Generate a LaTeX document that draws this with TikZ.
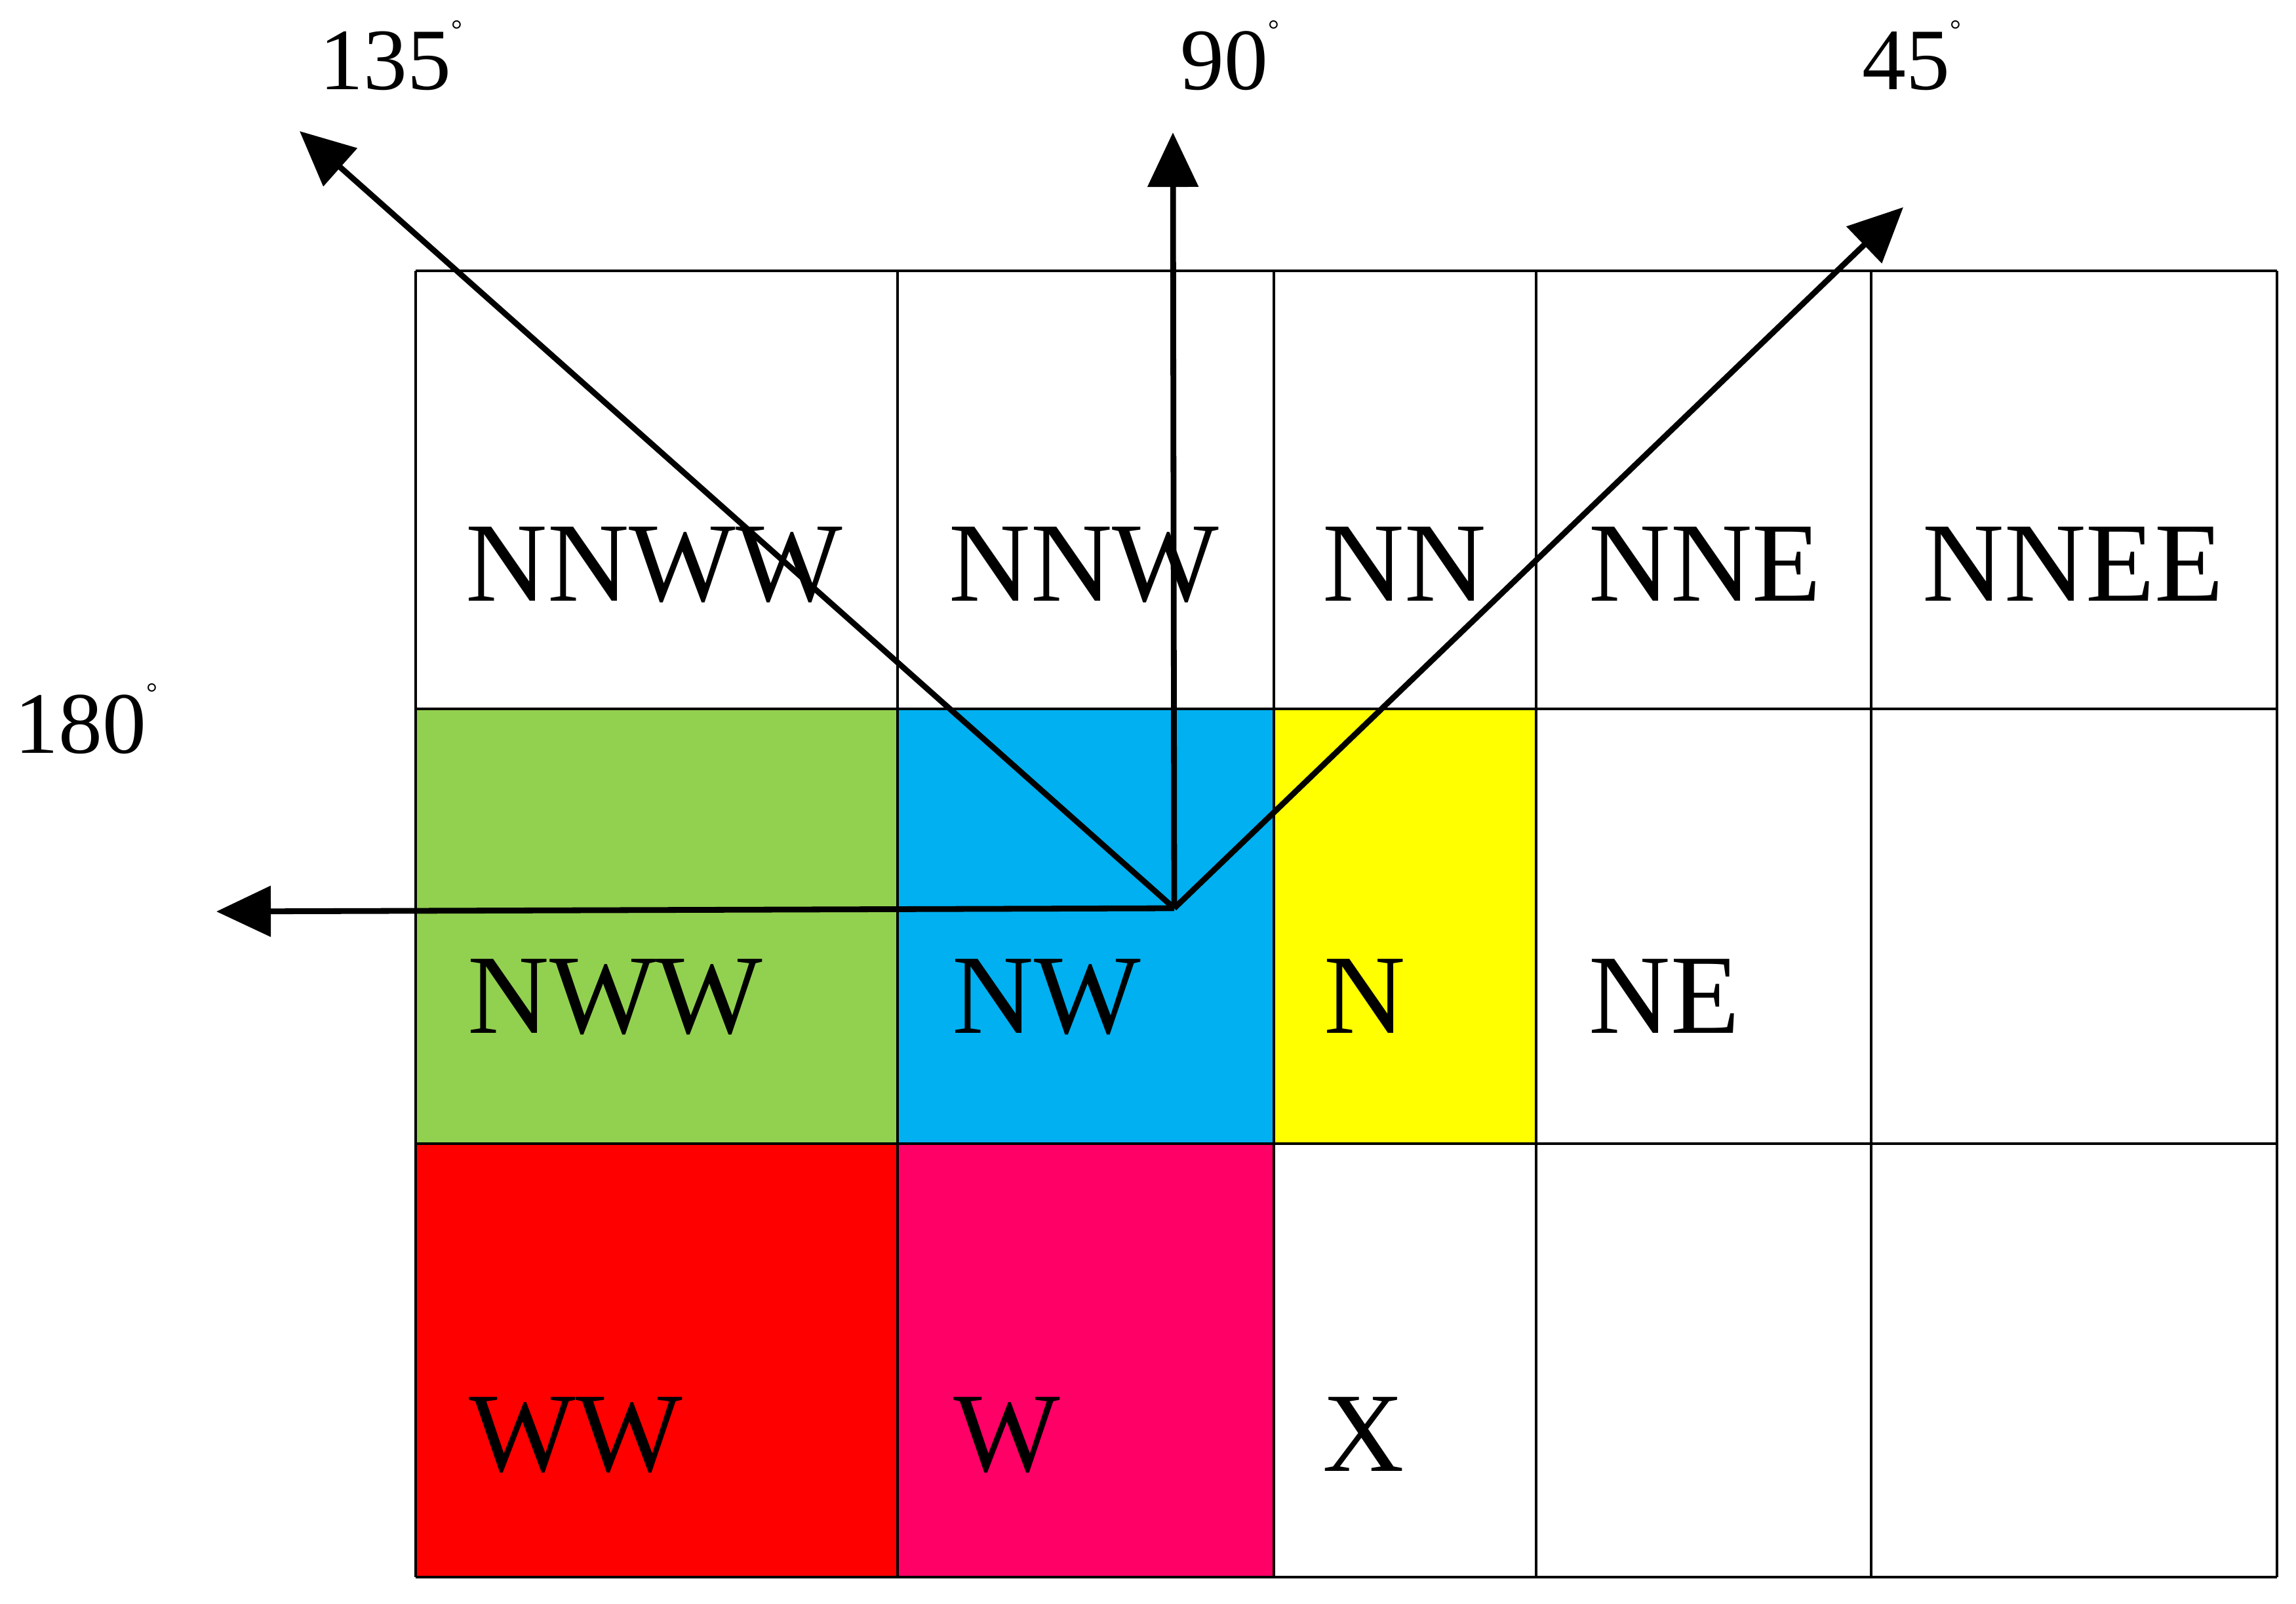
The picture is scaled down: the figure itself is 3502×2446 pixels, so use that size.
\documentclass[tikz,border=0pt]{standalone}
\usepackage{fontspec}
\setmainfont{Liberation Serif}
\usetikzlibrary{arrows.meta}
\definecolor{cgreen}{HTML}{92D050}
\definecolor{cblue}{HTML}{00B0F0}
\definecolor{cyellow}{HTML}{FFFF00}
\definecolor{cred}{HTML}{FF0000}
\definecolor{cpink}{HTML}{FF0066}
\tikzset{
  cell/.style={anchor=base west, inner sep=0pt, font=\fontsize{49}{55}\selectfont},
  deg/.style={anchor=base west, inner sep=0pt, font=\fontsize{38}{42}\selectfont},
  gridline/.style={line width=1.1pt, black},
  dirarrow/.style={line width=2.5pt, -{Triangle[length=0.83cm,width=0.76cm]}},
}
\newcommand{\dg}{\raisebox{22pt}{\fontsize{12}{12}\selectfont °}}
\begin{document}
\begin{tikzpicture}[x=0.01cm,y=-0.01cm]
\useasboundingbox (0,0) rectangle (3502,2446);
% coloured cells
\fill[cgreen]  (634,1081) rectangle (1369,1744);
\fill[cblue]   (1369,1081) rectangle (1943,1744);
\fill[cyellow] (1943,1081) rectangle (2343,1744);
\fill[cred]    (634,1744) rectangle (1369,2405);
\fill[cpink]   (1369,1744) rectangle (1943,2405);
% grid
\foreach \x in {634,1369,1943,2343,2854,3473}
  \draw[gridline] (\x,413) -- (\x,2405);
\foreach \y in {413,1081,1744,2405}
  \draw[gridline] (634,\y) -- (3473,\y);
% cell labels
\node[cell] (nnww) at (710,916) {NNWW};
\node[cell] (nnw)  at (1447,916) {NNW};
\node[cell] (nn)   at (2017,916) {NN};
\node[cell] (nne)  at (2423,916) {NNE};
\node[cell] (nnee) at (2932,916) {NNEE};
\node[cell] (nww)  at (713,1575) {NWW};
\node[cell] (nw)   at (1452,1575) {NW};
\node[cell] (n)    at (2019,1575) {N};
\node[cell] (ne)   at (2423,1575) {NE};
\node[cell] (ww)   at (715,2243) {WW};
\node[cell] (w)    at (1454,2243) {W};
\node[cell] (xx)   at (2017,2243) {X};
% angle labels
\node[deg] (l135) at (487,137) {135\dg};
\node[deg] (l90)  at (1800,137) {90\dg};
\node[deg] (l45)  at (2840,137) {45\dg};
\node[deg] (l180) at (22,1148) {180\dg};
% arrows
\coordinate (o) at (1791,1385);
\coordinate (t135) at (457,200);
\coordinate (t90) at (1789,202);
\coordinate (t45) at (2903,316);
\coordinate (t180) at (330,1390);
\draw[dirarrow] (o) -- (t135);
\draw[dirarrow] (o) -- (t90);
\draw[dirarrow] (o) -- (t45);
\draw[dirarrow] (o) -- (t180);
\end{tikzpicture}
\end{document}
